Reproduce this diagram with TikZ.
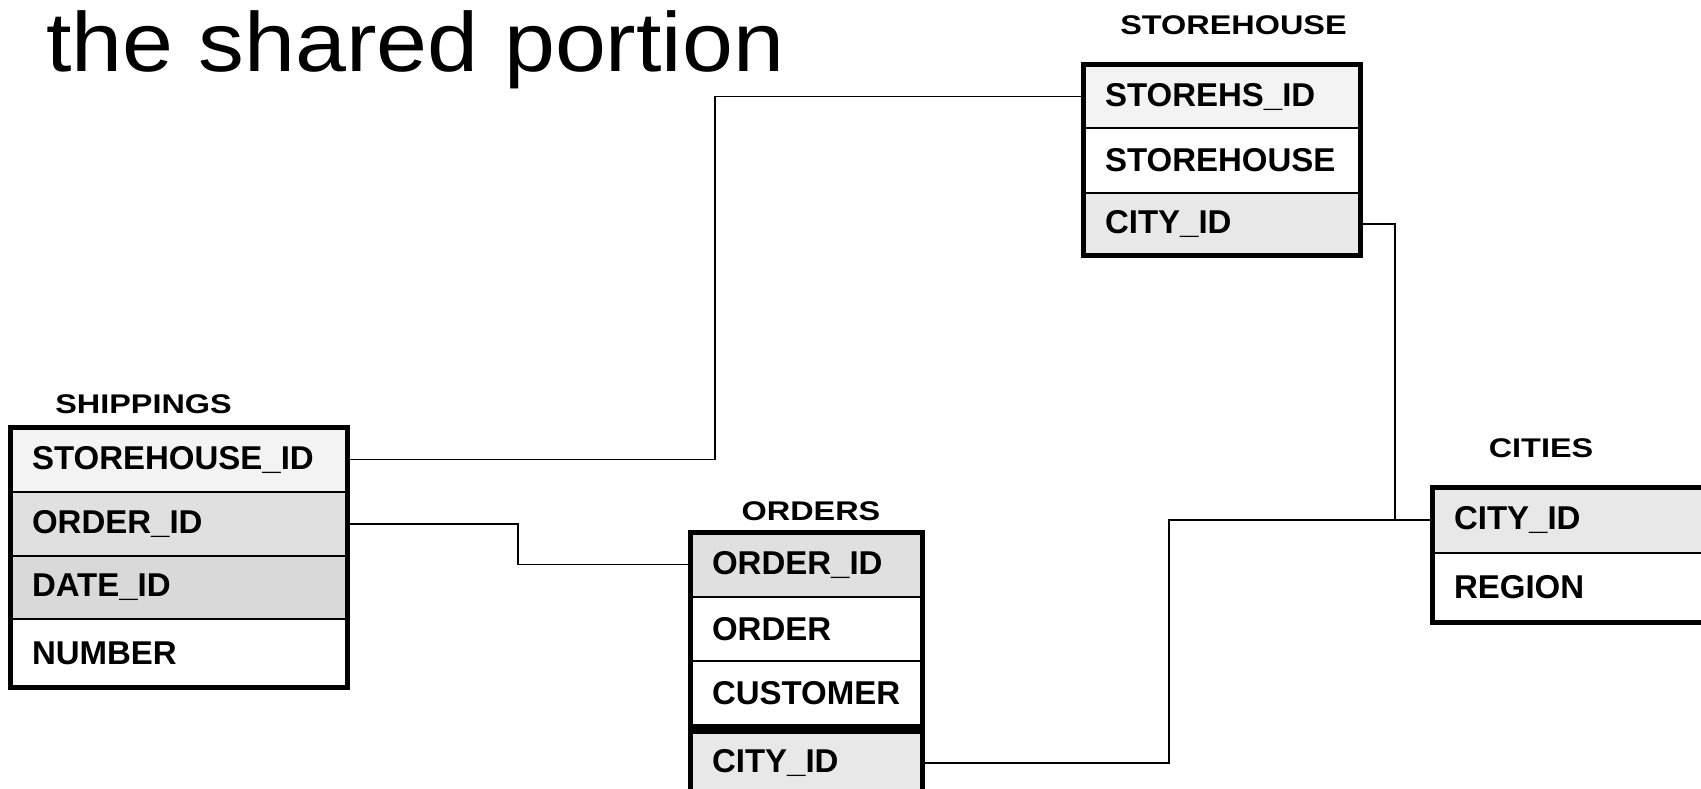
\documentclass[tikz,border=0pt]{standalone}
\usepackage{fontspec}
\setmainfont{Liberation Sans}
\definecolor{rowA}{HTML}{F3F3F3}
\definecolor{rowB}{HTML}{E0E0E0}
\definecolor{rowC}{HTML}{D9D9D9}
\definecolor{rowD}{HTML}{E8E8E8}
\begin{document}
\begin{tikzpicture}[x=1pt,y=-1pt,
  field/.style={draw=black, line width=2.5pt, rectangle, anchor=north west,
    inner xsep=22pt, inner ysep=0pt, outer sep=0pt, align=left,
    font=\fontsize{33}{33}\selectfont\bfseries},
  shipfield/.style={field, text width=293pt},
  ordfield/.style={field, text width=188pt},
  stofield/.style={field, text width=233pt},
  cityfield/.style={field, text width=304pt},
  frame/.style={draw=black, line width=5pt},
  tabtitle/.style={anchor=base, inner sep=0pt, font=\fontsize{27}{27}\selectfont\bfseries},
  link/.style={draw=black, line width=1.5pt},
  headline/.style={anchor=base west, inner sep=0pt, font=\fontsize{84}{84}\selectfont}]
\useasboundingbox (0,0) rectangle (1701,789);
\clip (0,0) rectangle (1701,789);
\fill[white] (0,0) rectangle (1701,789);

% title
\node[headline] (title) at (46,72) {\scalebox{1.09}[1]{the shared portion}};

% SHIPPINGS
\node[tabtitle] (tship) at (143.5,413) {\scalebox{1.2}[1]{SHIPPINGS}};
\node[shipfield, fill=rowA, minimum height=65pt] (s1) at (10,427) {STOREHOUSE\_ID};
\node[shipfield, fill=rowB, minimum height=64pt] (s2) at (10,492) {ORDER\_ID};
\node[shipfield, fill=rowC, minimum height=63pt] (s3) at (10,556) {DATE\_ID};
\node[shipfield, fill=white, minimum height=68pt] (s4) at (10,619) {NUMBER};
\draw[frame] (s1.north west) rectangle (s4.south east);

% ORDERS
\node[tabtitle] (tord) at (811,520) {\scalebox{1.2}[1]{ORDERS}};
\node[ordfield, fill=rowB, minimum height=65pt] (o1) at (690,532) {ORDER\_ID};
\node[ordfield, fill=white, minimum height=64pt] (o2) at (690,597) {ORDER};
\node[ordfield, fill=white, minimum height=65pt] (o3) at (690,661) {CUSTOMER};
\draw[frame] (o1.north west) rectangle (o3.south east);
\node[ordfield, fill=rowD, minimum height=64pt] (o4) at (690,731) {CITY\_ID};
\draw[frame] (o4.north west) rectangle (o4.south east);

% STOREHOUSE
\node[tabtitle] (tsto) at (1233.5,35) {\scalebox{1.2}[1]{STOREHOUSE}};
\node[stofield, fill=rowA, minimum height=63pt] (h1) at (1083,65) {STOREHS\_ID};
\node[stofield, fill=white, minimum height=65pt] (h2) at (1083,128) {STOREHOUSE};
\node[stofield, fill=rowD, minimum height=62pt] (h3) at (1083,193) {CITY\_ID};
\draw[frame] (h1.north west) rectangle (h3.south east);

% CITIES
\node[tabtitle] (tcit) at (1541,457) {\scalebox{1.2}[1]{CITIES}};
\node[cityfield, fill=rowD, minimum height=66pt] (c1) at (1432,487) {CITY\_ID};
\node[cityfield, fill=white, minimum height=69pt] (c2) at (1432,553) {REGION};
\draw[frame] (c1.north west) rectangle (c2.south east);

% bend columns
\coordinate (b1) at (715,300);
\coordinate (b2) at (518,540);
\coordinate (b3) at (1169,640);
\coordinate (b4) at (1395,400);

% connectors
\draw[link] (s1.east) -- (s1.east -| b1) |- (h1.west);
\draw[link] (s2.east) -- (s2.east -| b2) |- (o1.west);
\draw[link] (o4.east) -- (o4.east -| b3) |- (c1.west);
\draw[link] (h3.east) -- (h3.east -| b4) |- (c1.west);
\end{tikzpicture}
\end{document}
